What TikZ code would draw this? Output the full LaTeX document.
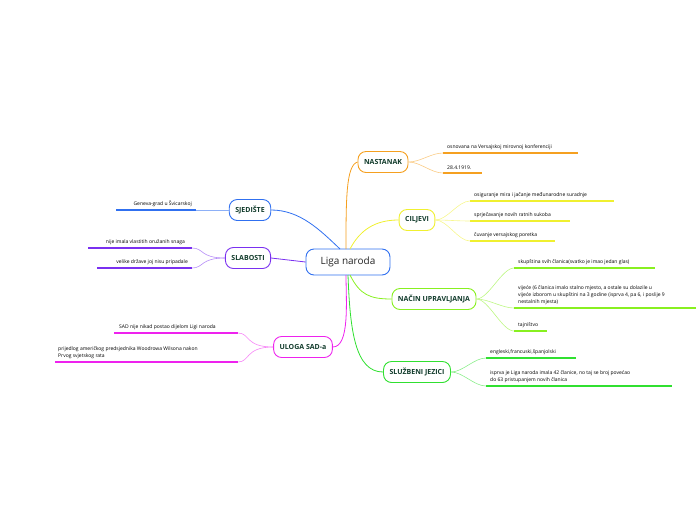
\documentclass[tikz,border=0pt]{standalone}
\usepackage{fontspec}
\setmainfont{Open Sans}
\definecolor{corange}{HTML}{F5A020}
\definecolor{cyellow}{HTML}{F0F030}
\definecolor{cchart}{HTML}{88F020}
\definecolor{cgreen}{HTML}{30E030}
\definecolor{cblue}{HTML}{3070F0}
\definecolor{cpurple}{HTML}{7A30F0}
\definecolor{cmag}{HTML}{EE22EE}
\definecolor{ctxt}{HTML}{123C2C}
\tikzset{
 branch/.style={draw=#1,line width=0.9pt,rounded corners=8pt,fill=white,font=\bfseries\fontsize{7}{8}\selectfont,text=ctxt,minimum height=21pt,inner xsep=6pt},
 leaftext/.style={font=\fontsize{5}{7}\selectfont,anchor=south west,inner sep=1pt,align=left},
 uline/.style={draw=#1,line width=1.4pt},
 conn/.style={draw=#1,line width=0.8pt},
 lconn/.style={draw=#1!55,line width=0.6pt}
}
\newcommand{\leafx}[7]{% name, x1, x2, y, color, text, branch anchor/fork
 \coordinate (#1a) at (#2,#4); \coordinate (#1b) at (#3,#4);
 \draw[uline=#5] (#1a) -- (#1b);
 \node[leaftext] (#1t) at ([xshift=3pt,yshift=2pt]#1a) {#6};
 \draw[lconn=#5] (#7) .. controls ([xshift=12pt]#7) and ([xshift=-12pt]#1a) .. (#1a);
}
\begin{document}
\begin{tikzpicture}[x=1pt,y=-1pt]
\useasboundingbox (0,0) rectangle (696,520);
\node[draw=cblue,line width=0.9pt,rounded corners=8pt,fill=white,minimum width=84pt,minimum height=26pt,font=\fontsize{10}{12}\selectfont,text=black!85] (c) at (348,262) {Liga naroda};
\node[branch=corange] (n) at (383,162) {NASTANAK};
\node[branch=cyellow] (ci) at (417,220) {CILJEVI};
\node[branch=cchart] (u) at (434,299) {NAČIN UPRAVLJANJA};
\node[branch=cgreen] (j) at (417,372) {SLUŽBENI JEZICI};
\node[branch=cblue] (s) at (250,210) {SJEDIŠTE};
\node[branch=cpurple] (sl) at (248,258) {SLABOSTI};
\node[branch=cmag] (ul) at (303,347) {ULOGA SAD-a};
% main connectors
\draw[conn=corange] (346,249) .. controls (346,200) and (346,165) .. (n.west);
\draw[conn=cyellow] (350,249) .. controls (360,230) and (375,220) .. (ci.west);
\draw[conn=cchart] (350,275) .. controls (360,295) and (370,299) .. (u.west);
\draw[conn=cgreen] (348,275) .. controls (350,330) and (355,372) .. (j.west);
\draw[conn=cblue] (s.east) .. controls (300,210) and (320,230) .. (340,249);
\draw[conn=cpurple] (sl.east) -- (c.west);
\draw[conn=cmag] (ul.east) .. controls (350,347) and (346,300) .. (346,275);
% leaves
\coordinate (nf) at (n.east); \coordinate (cif) at (ci.east); \coordinate (uf) at (u.east); \coordinate (jf) at (j.east);
\leafx{n1}{443}{578}{153}{corange}{osnovana na Versajskoj mirovnoj konferenciji}{nf}
\leafx{n2}{443}{482}{173}{corange}{28.4.1919.}{nf}
\leafx{c1}{470}{614}{201}{cyellow}{osiguranje mira i jačanje međunarodne suradnje}{cif}
\leafx{c2}{470}{570}{221}{cyellow}{sprječavanje novih ratnih sukoba}{cif}
\leafx{c3}{470}{555}{241}{cyellow}{čuvanje versajskog poretka}{cif}
\leafx{u1}{514}{655}{268}{cchart}{skupština svih članica(svatko je imao jedan glas)}{uf}
\leafx{u2}{514}{696}{308}{cchart}{vijeće (6 članica imalo stalno mjesto, a ostale su dolazile u\\vijeće izborom u skupštini na 3 godine (isprva 4, pa 6, i poslije 9\\nestalnih mjesta)}{uf}
\leafx{u3}{514}{547}{331}{cchart}{tajništvo}{uf}
\leafx{j1}{486}{576}{358}{cgreen}{engleski,francuski,španjolski}{jf}
\leafx{j2}{486}{672}{386}{cgreen}{isprva je Liga naroda imala 42 članice, no taj se broj povećao\\do 63 pristupanjem novih članica}{jf}
% left leaves
\draw[uline=cblue] (116,210) coordinate (s1b) -- (196,210) coordinate (s1a);
\draw[lconn=cblue] (s1a) -- (s.west);
\node[font=\fontsize{5}{7}\selectfont,anchor=south east,inner sep=1pt] (s1t) at (193,208) {Geneva-grad u Švicarskoj};
\draw[uline=cpurple] (88,248) coordinate (l1b) -- (192,248) coordinate (l1a);
\draw[uline=cpurple] (97,268) coordinate (l2b) -- (192,268) coordinate (l2a);
\draw[lconn=cpurple] (sl.west) .. controls (200,258) and (204,248) .. (l1a);
\draw[lconn=cpurple] (sl.west) .. controls (200,258) and (204,268) .. (l2a);
\node[font=\fontsize{5}{7}\selectfont,anchor=south east,inner sep=1pt] (l1t) at (186,246) {nije imala vlastitih oružanih snaga};
\node[font=\fontsize{5}{7}\selectfont,anchor=south east,inner sep=1pt] (l2t) at (189,266) {velike države joj nisu pripadale};
\draw[uline=cmag] (114,333) coordinate (m1b) -- (238,333) coordinate (m1a);
\draw[uline=cmag] (55,362) coordinate (m2b) -- (238,362) coordinate (m2a);
\draw[lconn=cmag] (ul.west) .. controls (245,347) and (250,333) .. (m1a);
\draw[lconn=cmag] (ul.west) .. controls (245,347) and (250,362) .. (m2a);
\node[font=\fontsize{5}{7}\selectfont,anchor=south west,inner sep=1pt] (m1t) at (118,331) {SAD nije nikad postao dijelom Ligi naroda};
\node[font=\fontsize{5}{7}\selectfont,anchor=south west,inner sep=1pt,align=left] (m2t) at (57,360) {prijedlog američkog predsjednika Woodrowa Wilsona nakon\\Prvog svjetskog rata};
\end{tikzpicture}
\end{document}
